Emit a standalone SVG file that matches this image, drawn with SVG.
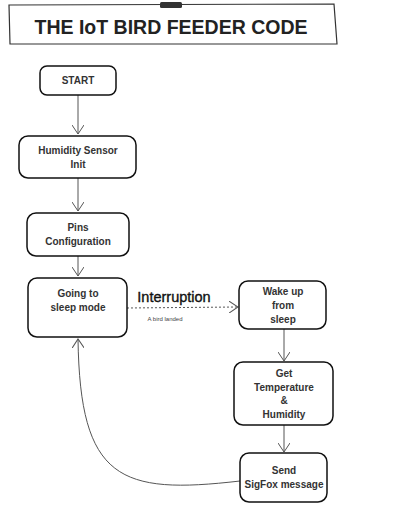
<svg xmlns="http://www.w3.org/2000/svg" width="401" height="510" viewBox="0 0 401 510">
<style>
.box{fill:#fff;stroke:#111;stroke-width:1.5}
.t{font-family:"Liberation Sans",Arial,sans-serif;font-size:10px;font-weight:bold;fill:#333;text-anchor:middle}
.c{fill:none;stroke:#555;stroke-width:1}
</style>
<defs>
<marker id="ah" viewBox="0 0 10 12" refX="9" refY="6" markerWidth="10" markerHeight="12" markerUnits="userSpaceOnUse" orient="auto">
<path d="M0,0 L9,6 L0,12" fill="none" stroke="#555" stroke-width="1"/>
</marker>
</defs>
<rect width="401" height="510" fill="#fff"/>
<g id="title">
<path d="M9,5 L334,4 L337,44 L10,44 Z" fill="#fff" stroke="#333" stroke-width="1.2"/>
<rect x="160" y="2" width="22" height="6" rx="1.5" fill="#333"/>
<text x="171" y="34" font-family="Liberation Sans,Arial,sans-serif" font-size="19.5" font-weight="bold" fill="#222" text-anchor="middle">THE IoT BIRD FEEDER CODE</text>
</g>
<g id="connectors">
<line class="c" x1="78" y1="95" x2="78" y2="134" marker-end="url(#ah)"/>
<line class="c" x1="78" y1="178" x2="78" y2="211" marker-end="url(#ah)"/>
<line class="c" x1="78" y1="256" x2="78" y2="276" marker-end="url(#ah)"/>
<line class="c" x1="127" y1="308" x2="238" y2="307" stroke-dasharray="2,2" marker-end="url(#ah)"/>
<line class="c" x1="284" y1="329" x2="284" y2="361" marker-end="url(#ah)"/>
<line class="c" x1="284" y1="425" x2="284" y2="452" marker-end="url(#ah)"/>
<path class="c" d="M240,481 C120,495 80,480 78,339" marker-end="url(#ah)"/>
<text x="174" y="302" font-family="Liberation Sans,Arial,sans-serif" font-size="14.5" fill="#111" stroke="#111" stroke-width="0.35" text-anchor="middle">Interruption</text>
<text x="165" y="321" font-family="Liberation Sans,Arial,sans-serif" font-size="6" fill="#444" text-anchor="middle">A bird landed</text>
</g>
<g id="start">
<rect class="box" x="40" y="66" width="76" height="29" rx="7"/>
<text class="t" x="78" y="84">START</text>
</g>
<g id="humidity-init">
<rect class="box" x="19" y="136" width="117" height="42" rx="9"/>
<text class="t" x="78" y="154">Humidity Sensor</text>
<text class="t" x="78" y="168">Init</text>
</g>
<g id="pins">
<rect class="box" x="27" y="213" width="102" height="43" rx="9"/>
<text class="t" x="78" y="231">Pins</text>
<text class="t" x="78" y="245">Configuration</text>
</g>
<g id="sleep">
<rect class="box" x="28" y="278" width="99" height="59" rx="9"/>
<text class="t" x="78" y="297">Going to</text>
<text class="t" x="78" y="311">sleep mode</text>
</g>
<g id="wake">
<rect class="box" x="239" y="281" width="87" height="48" rx="9"/>
<text class="t" x="283" y="295">Wake up</text>
<text class="t" x="283" y="309">from</text>
<text class="t" x="283" y="323">sleep</text>
</g>
<g id="get">
<rect class="box" x="234" y="362" width="99" height="63" rx="9"/>
<text class="t" x="284" y="377">Get</text>
<text class="t" x="284" y="391">Temperature</text>
<text class="t" x="284" y="404">&amp;</text>
<text class="t" x="284" y="418">Humidity</text>
</g>
<g id="send">
<rect class="box" x="240" y="453" width="87" height="49" rx="9"/>
<text class="t" x="284" y="474">Send</text>
<text class="t" x="284" y="488">SigFox message</text>
</g>
</svg>
